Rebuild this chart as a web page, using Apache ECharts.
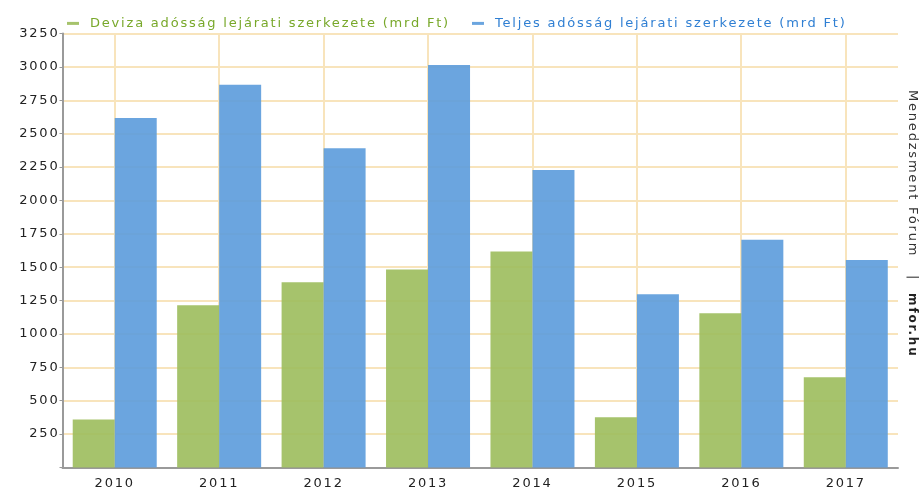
<!DOCTYPE html>
<html>
<head>
<meta charset="utf-8">
<script src="https://cdn.jsdelivr.net/npm/echarts@6/dist/echarts.min.js"></script>
<style>
  html, body { margin: 0; padding: 0; background: #fff; }
  #chart { width: 922px; height: 496px; }
</style>
</head>
<body>
<div id="chart"></div>
<script>
// évek
var years = ["2010", "2011", "2012", "2013", "2014", "2015", "2016", "2017"];
// deviza adósság lejárati szerkezete (mrd Ft)
var devizaData = [360, 1215, 1388, 1482, 1618, 376, 1156, 676];
// teljes adósság lejárati szerkezete (mrd Ft)
var teljesData = [2617, 2866, 2390, 3014, 2228, 1298, 1705, 1553];
var seriesNames = [
  "Deviza adósság lejárati szerkezete (mrd Ft)",
  "Teljes adósság lejárati szerkezete (mrd Ft)"
];
// függőleges rácsvonalak az évek közepén (0..7 index)
var yearIndex = [0, 1, 2, 3, 4, 5, 6, 7];

// a régi grafikon ritkított betűközét utánozzuk (mérés és rajzolás is)
var fontDesc = Object.getOwnPropertyDescriptor(CanvasRenderingContext2D.prototype, "font");
Object.defineProperty(CanvasRenderingContext2D.prototype, "font", {
  configurable: true,
  get: function () { return fontDesc.get.call(this); },
  set: function (v) {
    fontDesc.set.call(this, v);
    this.letterSpacing = "1.8px";
  }
});

var fontFamily = "DejaVu Sans, Verdana, sans-serif";
var gridColor = "#f8e4bc";
var axisColor = "#9a9a9a";

var chart = echarts.init(document.getElementById("chart"));
chart.setOption({
  animation: false,
  textStyle: { fontFamily: fontFamily },
  legend: {
    left: 62,
    top: 11,
    itemWidth: 12,
    itemHeight: 3,
    itemGap: 22,
    icon: "rect",
    data: [
      { name: seriesNames[0], textStyle: { color: "#78a82a" } },
      { name: seriesNames[1], textStyle: { color: "#2f7fd3" } }
    ],
    textStyle: { fontSize: 13, fontFamily: fontFamily, padding: [0, 0, 0, 6] }
  },
  grid: [
    { left: 62.5, right: 24, top: 33.5, bottom: 28.5 },
    // csak a függőleges rácsvonalakhoz: az első és utolsó év közepe között
    { left: 114.7, right: 76.5, top: 33.5, bottom: 28.5 }
  ],
  xAxis: [
    {
      type: "category",
      gridIndex: 0,
      data: years,
      axisLine: { lineStyle: { color: axisColor, width: 2 } },
      axisTick: { alignWithLabel: true, length: 4, lineStyle: { color: axisColor } },
      axisLabel: { color: "#222", fontSize: 13, margin: 9 },
      splitLine: { show: false }
    },
    {
      type: "value",
      gridIndex: 1,
      min: yearIndex[0],
      max: yearIndex[yearIndex.length - 1],
      interval: 1,
      axisLine: { show: false },
      axisTick: { show: false },
      axisLabel: { show: false },
      splitLine: { show: true, lineStyle: { color: gridColor, width: 2 } }
    }
  ],
  yAxis: [
    {
      type: "value",
      gridIndex: 0,
      min: 0,
      max: 3250,
      interval: 250,
      axisLine: { show: true, lineStyle: { color: axisColor, width: 2 } },
      axisTick: { show: true, length: 3, lineStyle: { color: axisColor } },
      axisLabel: {
        color: "#222",
        fontSize: 13,
        margin: 3,
        formatter: function (v) { return v === 0 ? "" : v; }
      },
      splitLine: { lineStyle: { color: gridColor, width: 2 } }
    },
    {
      type: "value",
      gridIndex: 1,
      min: 0,
      max: 3250,
      show: false,
      splitLine: { show: false }
    }
  ],
  series: [
    {
      name: seriesNames[0],
      type: "bar",
      data: devizaData,
      barWidth: 42,
      barGap: "0%",
      itemStyle: { color: "#9cbc5c", opacity: 0.9 }
    },
    {
      name: seriesNames[1],
      type: "bar",
      data: teljesData,
      barWidth: 42,
      itemStyle: { color: "#5b9bdb", opacity: 0.9 }
    }
  ],
  graphic: [
    {
      type: "text",
      x: 920,
      y: 90,
      rotation: -Math.PI / 2,
      style: {
        rich: {
          a: { fontSize: 13, fill: "#333", fontFamily: fontFamily },
          b: { fontSize: 12, fill: "#222", fontWeight: "bold", fontFamily: fontFamily }
        },
        text: "{a|Menedzsment Fórum   |  }{b|mfor.hu}"
      }
    }
  ]
});
</script>
</body>
</html>
